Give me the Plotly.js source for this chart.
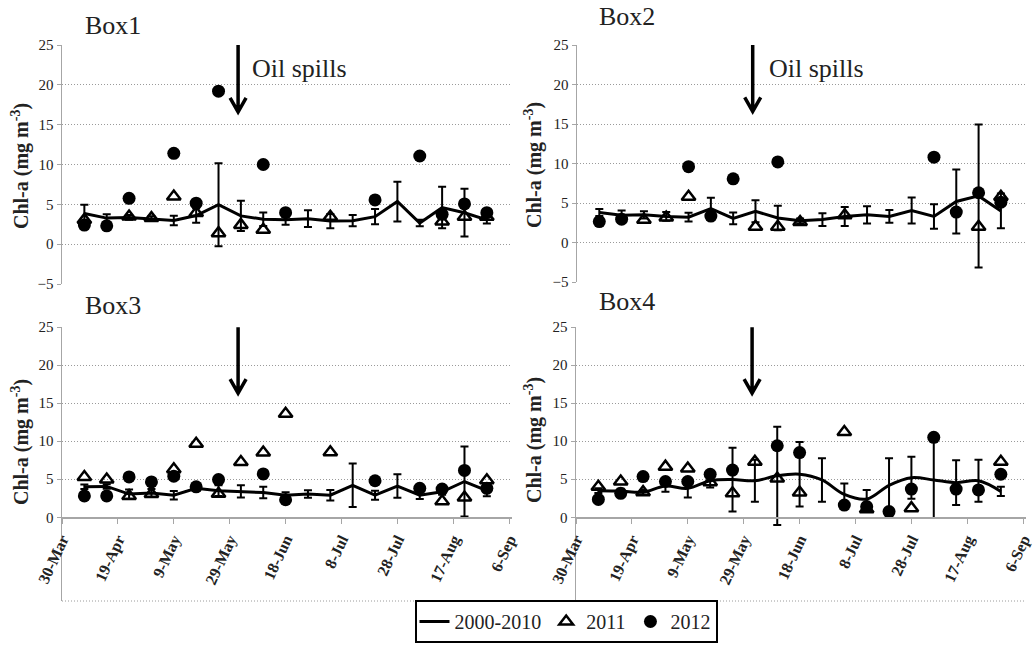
<!DOCTYPE html>
<html>
<head>
<meta charset="utf-8">
<script src="https://cdn.plot.ly/plotly-3.0.1.min.js"></script>
<style>html,body{margin:0;padding:0;background:#fff;}#chart{width:1035px;height:646px;}</style>
</head>
<body>
<div id="chart"></div>
<script>
// 8-day composite dates
const dates = ['2011-04-07','2011-04-15','2011-04-23','2011-05-01','2011-05-09','2011-05-17','2011-05-25','2011-06-02','2011-06-10','2011-06-18','2011-06-26','2011-07-04','2011-07-12','2011-07-20','2011-07-28','2011-08-05','2011-08-13','2011-08-21','2011-08-29'];
const tickLabelsFormat = '%-d-%b';
const oilSpillDate = '2011-06-01';

// Box1
const box1Mean = [3.85,3.27,3.35,3.2,2.97,3.6,4.95,3.55,3.13,3.05,3.2,2.9,2.95,3.45,5.35,2.65,4.6,3.95,3.05];
const box1SD   = [1.1,0.5,0.3,0.3,0.6,0.9,5.2,1.9,0.85,0.6,1.05,0.9,0.7,0.95,2.5,0.4,2.6,3.0,0.45];
const box1Y2011 = [3.05,null,3.47,3.27,5.97,3.9,1.38,2.42,1.8,null,null,3.45,null,null,null,null,2.85,3.45,3.45];
const box1Y2012 = [2.4,2.3,5.75,null,11.4,5.15,19.2,null,10.0,3.95,null,null,null,5.55,null,11.07,3.75,5.05,3.95];

// Box2
const box2Mean = [3.8,3.45,3.5,3.3,3.2,4.3,3.05,3.95,3.1,2.75,2.9,3.3,3.5,3.3,4.05,3.3,5.2,5.9,4.0];
const box2SD   = [0.45,0.6,0.45,0.55,0.55,1.35,0.75,1.4,1.55,0.3,0.8,1.2,1.1,0.8,1.65,1.55,4.05,9.05,2.2];
const box2Y2011 = [null,null,2.87,3.15,5.8,null,null,2.0,2.0,2.6,null,3.45,null,null,null,null,null,2.0,5.8];
const box2Y2012 = [2.65,2.95,null,null,9.6,3.35,8.06,null,10.2,null,null,null,null,null,null,10.8,3.85,6.3,5.1];

// Box3
const box3Mean = [4.0,4.05,3.05,3.2,2.9,3.8,3.5,3.4,3.25,2.9,3.05,2.9,4.2,2.9,4.1,2.9,3.35,4.7,3.5];
const box3SD   = [0.3,0.3,0.6,0.5,0.55,0.3,0.7,0.8,0.75,0.4,0.5,0.7,2.85,0.6,1.55,0.5,0.4,4.6,0.75];
const box3Y2011 = [5.3,4.95,2.8,3.05,6.3,9.65,3.1,7.25,8.5,13.6,null,8.55,null,null,null,null,2.1,2.6,4.85];
const box3Y2012 = [2.8,2.8,5.3,4.65,5.4,4.0,4.95,null,5.7,2.3,null,null,null,4.8,null,3.8,3.7,6.15,3.8];

// Box4
const box4Mean = [3.5,3.45,3.3,4.1,3.8,4.8,4.95,4.8,5.45,5.65,4.9,3.0,2.4,4.2,5.2,4.9,4.55,4.8,3.4];
const box4SD   = [0.3,0.3,0.3,0.75,1.2,0.9,4.2,2.75,6.45,4.25,2.85,1.45,1.2,3.55,2.75,5.0,2.95,2.75,0.6];
const box4Y2011 = [4.0,4.7,3.3,6.65,6.4,4.6,3.15,7.3,5.1,3.25,null,11.2,1.05,null,1.2,null,null,null,7.3];
const box4Y2012 = [2.35,3.15,5.35,4.7,4.7,5.65,6.2,null,9.4,8.5,null,1.6,1.4,0.75,3.7,10.5,3.7,3.6,5.65];

const boxes = [
  {mean: box1Mean, sd: box1SD, y11: box1Y2011, y12: box1Y2012, xa: 'x',  ya: 'y',  shape: 'linear'},
  {mean: box2Mean, sd: box2SD, y11: box2Y2011, y12: box2Y2012, xa: 'x2', ya: 'y2', shape: 'linear'},
  {mean: box3Mean, sd: box3SD, y11: box3Y2011, y12: box3Y2012, xa: 'x3', ya: 'y3', shape: 'linear'},
  {mean: box4Mean, sd: box4SD, y11: box4Y2011, y12: box4Y2012, xa: 'x4', ya: 'y4', shape: 'spline'}
];

const W = 1035, H = 646;
const px = v => v / W;
const py = v => 1 - v / H;
const SERIF = 'Liberation Serif, serif';

const traces = [];
boxes.forEach((b, i) => {
  traces.push({
    x: dates, y: b.mean, xaxis: b.xa, yaxis: b.ya, type: 'scatter', mode: 'lines',
    name: '2000-2010', legendgroup: 'a', showlegend: i === 0,
    line: {color: '#000', width: 3, shape: b.shape},
    error_y: {type: 'data', array: b.sd, visible: true, color: '#000', thickness: 2, width: 4}
  });
  traces.push({
    x: dates, y: b.y11, xaxis: b.xa, yaxis: b.ya, type: 'scatter', mode: 'markers',
    name: '2011', legendgroup: 'b', showlegend: i === 0,
    marker: {symbol: 'triangle-up-open', size: 12, color: '#000', line: {color: '#000', width: 2.5}}
  });
  traces.push({
    x: dates, y: b.y12, xaxis: b.xa, yaxis: b.ya, type: 'scatter', mode: 'markers',
    name: '2012', legendgroup: 'c', showlegend: i === 0,
    marker: {symbol: 'circle', size: 13, color: '#000'}
  });
});

const xRange = ['2011-03-30', '2011-09-07'];
const gridStyle = {showgrid: true, gridcolor: '#9a9a9a', griddash: '1px,2px', gridwidth: 1};
function yax(domTop, domBot, anchor, range, tickvals) {
  return Object.assign({
    domain: [py(domBot), py(domTop)], anchor: anchor, range: range, tickvals: tickvals,
    showline: true, linecolor: '#a6a6a6', linewidth: 1.5, ticks: 'outside', ticklen: 4, tickcolor: '#a6a6a6',
    zeroline: false, tickfont: {family: SERIF, size: 15, color: '#222'}, automargin: false, fixedrange: true
  }, gridStyle);
}
function xTop(l, r, anchor) {
  return {domain: [px(l), px(r)], anchor: anchor, type: 'date', range: xRange, showticklabels: false,
    showline: false, ticks: '', showgrid: false, zeroline: false, automargin: false};
}
function xBot(l, r, pos) {
  return {domain: [px(l), px(r)], anchor: 'free', position: pos, type: 'date', range: xRange,
    tick0: '2011-03-30', dtick: 20 * 86400000, tickformat: tickLabelsFormat, tickangle: -65,
    showline: true, linecolor: '#a6a6a6', linewidth: 1.5, ticks: 'outside', ticklen: 5, tickcolor: '#a6a6a6',
    showgrid: false, zeroline: false, automargin: false,
    tickfont: {family: SERIF, size: 16, color: '#222', weight: 'bold'}};
}

const topTicks = [-5, 0, 5, 10, 15, 20, 25];
const botTicks = [0, 5, 10, 15, 20, 25];
const zeroPos = py(517.3);

const layout = {
  width: W, height: H, margin: {l: 0, r: 0, t: 0, b: 0},
  paper_bgcolor: '#fff', plot_bgcolor: '#fff',
  font: {family: SERIF, color: '#222'},
  xaxis: xTop(62, 512, 'y'),
  yaxis: yax(45, 284, 'x', [-5, 25], topTicks),
  xaxis2: xTop(577, 1026, 'y2'),
  yaxis2: yax(45, 282, 'x2', [-5, 25], topTicks),
  xaxis3: xBot(62, 512, zeroPos),
  yaxis3: yax(327, 601, 'x3', [-11.0, 25], botTicks),
  xaxis4: xBot(576, 1026, zeroPos),
  yaxis4: yax(327, 601, 'x4', [-11.0, 25], botTicks),
  showlegend: true,
  legend: {orientation: 'h', x: px(566), xanchor: 'center', y: py(600), yanchor: 'top',
    bordercolor: '#000', borderwidth: 2, bgcolor: '#fff',
    font: {family: SERIF, size: 20, color: '#222'}},
  annotations: [],
  shapes: []
};

const titleFont = {family: SERIF, size: 26, color: '#222'};
[['Box1', 113, 25], ['Box2', 627, 17], ['Box3', 113, 305], ['Box4', 627, 301]].forEach(a => {
  layout.annotations.push({text: a[0], xref: 'paper', yref: 'paper', x: px(a[1]), y: py(a[2]),
    xanchor: 'center', yanchor: 'middle', showarrow: false, font: titleFont});
});
[[250, 68], [767, 68]].forEach(a => {
  layout.annotations.push({text: 'Oil spills', xref: 'paper', yref: 'paper', x: px(a[0]), y: py(a[1]),
    xanchor: 'left', yanchor: 'middle', showarrow: false, font: titleFont});
});
[[20, 166], [533, 165], [20, 442], [533, 440]].forEach(a => {
  layout.annotations.push({text: 'Chl-a (mg m<sup>-3</sup>)', xref: 'paper', yref: 'paper', x: px(a[0]), y: py(a[1]),
    xanchor: 'center', yanchor: 'middle', textangle: -90, showarrow: false,
    font: {family: SERIF, size: 20, color: '#222', weight: 'bold'}});
});

// Oil spill arrows
[['x', 'y', 16.6, 67], ['x2', 'y2', 16.6, 67], ['x3', 'y3', 16.3, 66], ['x4', 'y4', 16.3, 66]].forEach(a => {
  layout.shapes.push({type: 'path', xref: a[0], yref: a[1], xsizemode: 'pixel', ysizemode: 'pixel',
    xanchor: oilSpillDate, yanchor: a[2],
    path: 'M0,0 L0,' + a[3] + ' M-8,14 L0,0 L8,14',
    line: {color: '#000', width: 3.5}});
});
// bottom extension of lower panels (dotted bottom line)
['x3', 'x4'].forEach((xa, i) => {
  layout.shapes.push({type: 'line', xref: xa + ' domain', yref: 'paper', x0: 0, x1: 1, y0: py(601), y1: py(601),
    line: {color: '#9a9a9a', width: 1, dash: '1px,2px'}, layer: 'below'});
});

Plotly.newPlot('chart', traces, layout, {staticPlot: true, displayModeBar: false});
</script>
</body>
</html>
